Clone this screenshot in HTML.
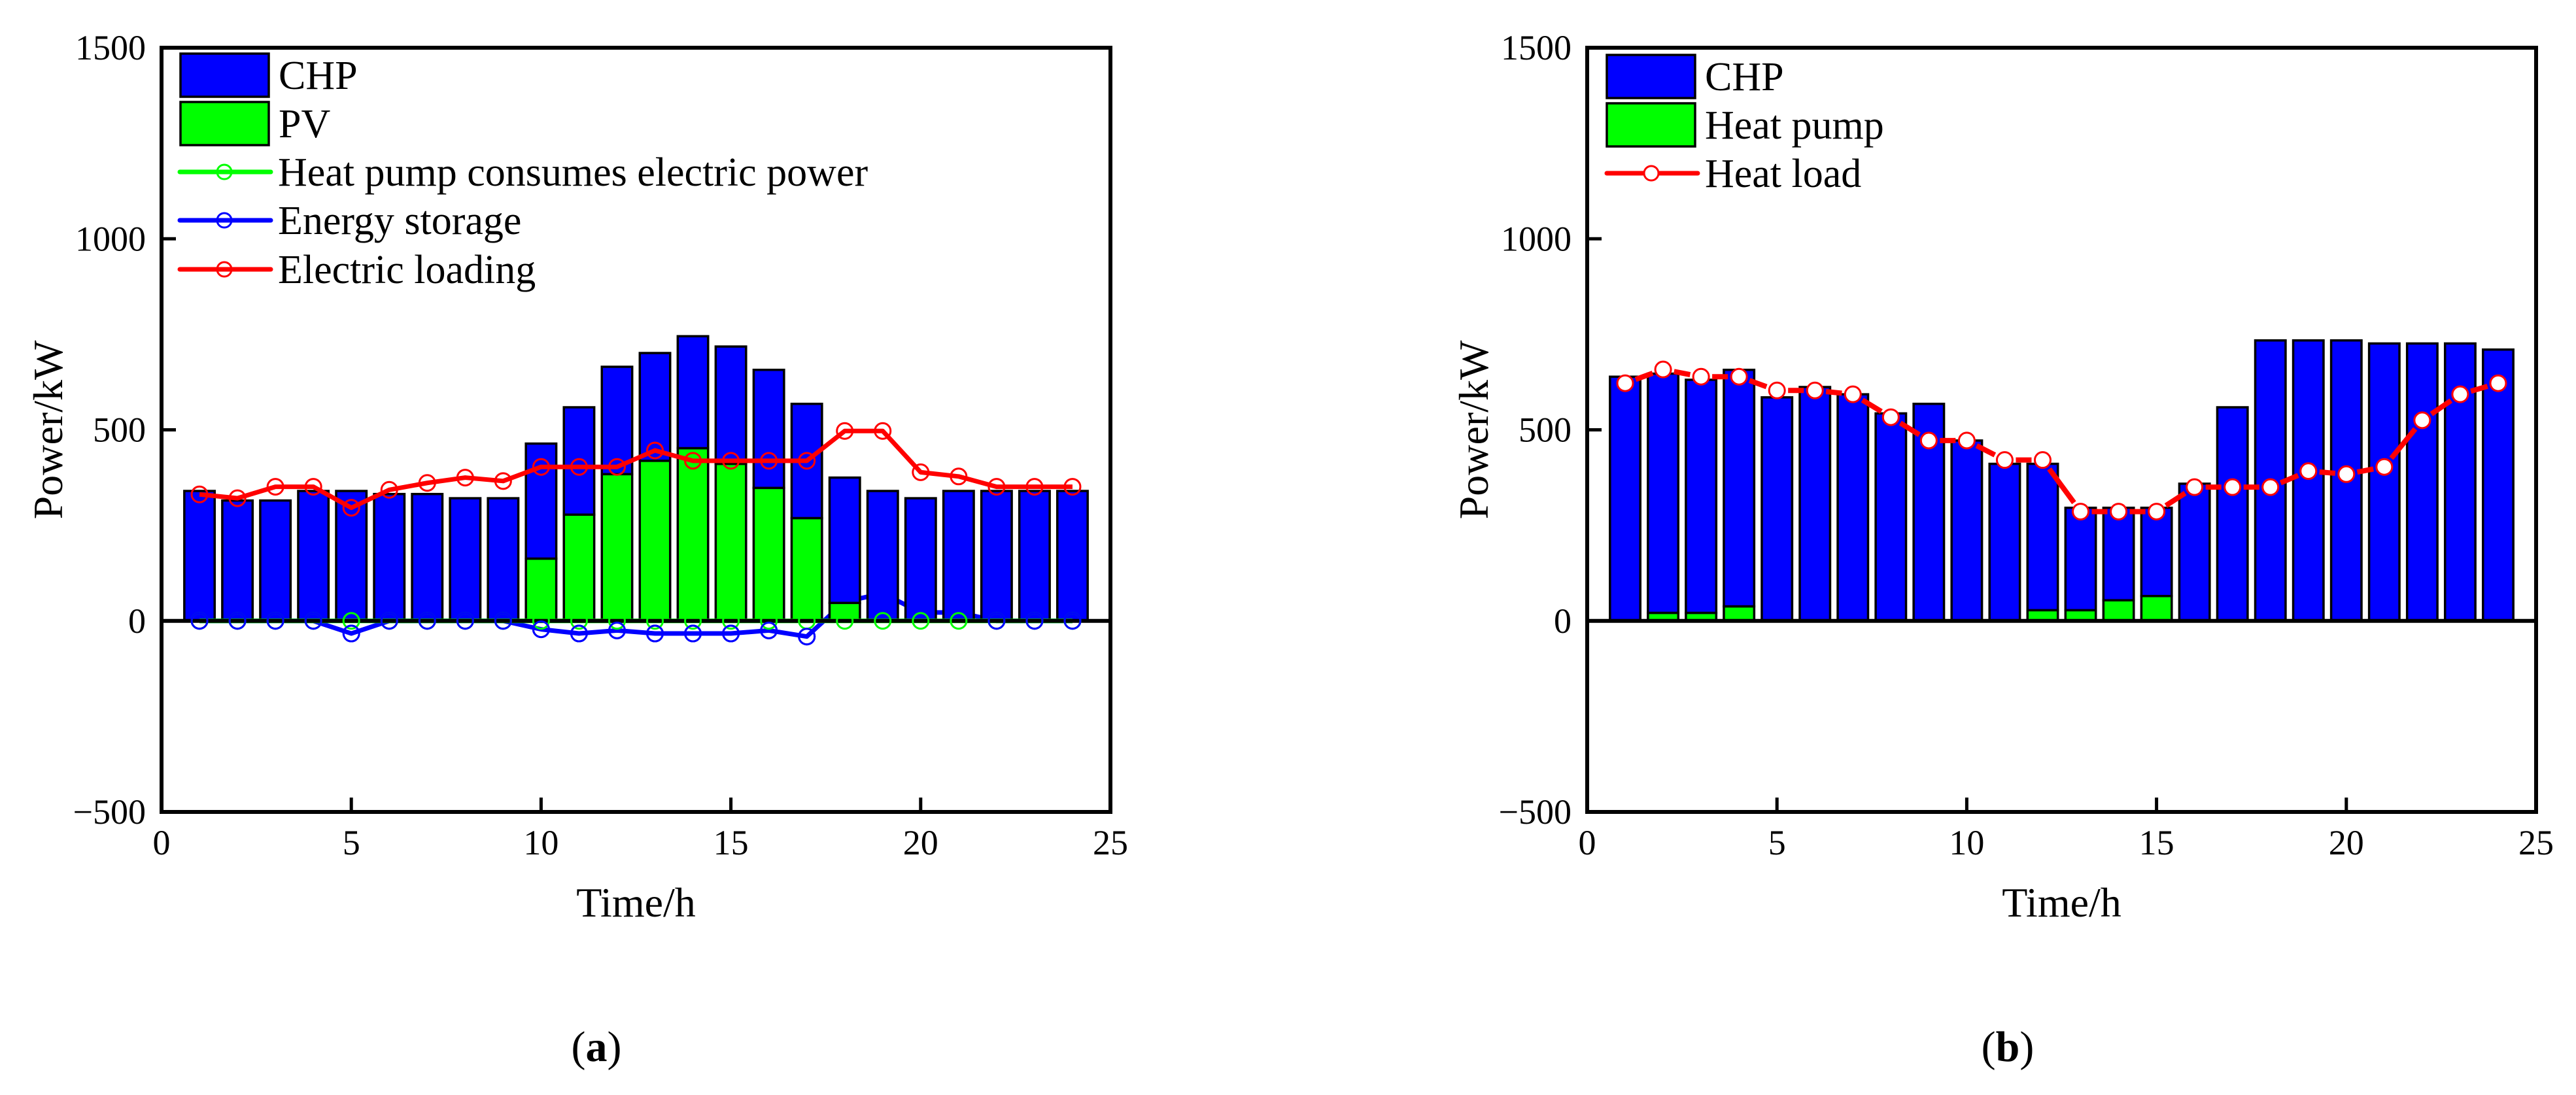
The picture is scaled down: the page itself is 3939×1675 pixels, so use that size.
<!DOCTYPE html>
<html><head><meta charset="utf-8"><style>
html,body{margin:0;padding:0;background:#fff;}
svg{display:block;font-family:"Liberation Serif",serif;}
</style></head><body>
<svg id="svg" width="3939" height="1675" viewBox="0 0 3939 1675" xmlns="http://www.w3.org/2000/svg">
<g id="chartA"></g>
<g id="chartB"></g>
<text x="912" y="1623" font-size="66" text-anchor="middle">(<tspan font-weight="bold">a</tspan>)</text>
<text x="3070" y="1623" font-size="66" text-anchor="middle">(<tspan font-weight="bold">b</tspan>)</text>
</svg>
<script>
const hours = [1,2,3,4,5,6,7,8,9,10,11,12,13,14,15,16,17,18,19,20,21,22,23,24];
const aTotal = [340,315,315,340,340,332,332,321,321,464,559,665,701,745,718,657,568,375,340,321,340,340,340,340];
const aPV = [0,0,0,0,0,0,0,0,0,163,278,384,419,452,411,348,269,47,0,0,0,0,0,0];
const aHeatPump = [0,0,0,0,0,0,0,0,0,0,0,0,0,0,0,0,0,0,0,0,0,0,0,0];
const aStorage = [0,0,0,0,-33,0,0,0,0,-22,-33,-25,-33,-33,-33,-25,-41,50,72,22,22,0,0,0];
const aLoad = [331,321,351,351,296,343,361,375,366,403,403,403,446,419,419,419,419,497,497,389,378,351,351,351];
const bTotal = [639,647,631,657,585,612,593,543,568,472,411,411,296,296,296,359,559,734,734,734,726,726,726,710];
const bHP = [0,21,21,38,0,0,0,0,0,0,0,28,28,54,65,0,0,0,0,0,0,0,0,0];
const bLoad = [622,658,639,639,603,603,593,533,472,472,421,421,286,286,286,350,350,350,392,384,403,525,593,622];
const xTicks = [0,5,10,15,20,25];
const yTicks = [-500,0,500,1000,1500];

const NS = "http://www.w3.org/2000/svg";
function el(tag, attrs, parent){const e=document.createElementNS(NS,tag);for(const k in attrs)e.setAttribute(k,attrs[k]);parent.appendChild(e);return e;}
const TOP=73, BOT=1242;
function yS(v){return TOP+(1500-v)*(BOT-TOP)/2000;}

function drawFrame(g, L, R, xS){
  yTicks.forEach(t=>{
    const tx=el('text',{x:L-24,y:yS(t)+18,'font-size':54,'text-anchor':'end'},g);
    tx.textContent=(t<0?'\u2212'+(-t):String(t));
    
    
    if(t>-500&&t<1500){const tk=el('line',{x1:L,x2:L+22,y1:yS(t),y2:yS(t),stroke:'#000','stroke-width':5},g);
      
      }
  });
  xTicks.forEach(t=>{
    const tx=el('text',{x:xS(t),y:1307,'font-size':54,'text-anchor':'middle'},g);
    tx.textContent=String(t);
    
    
    if(t>0&&t<25){const tk=el('line',{x1:xS(t),x2:xS(t),y1:BOT,y2:BOT-22,stroke:'#000','stroke-width':5},g);
      
      }
  });
  const xt=el('text',{x:(L+R)/2,y:1402,'font-size':64,'text-anchor':'middle'},g);
  xt.textContent='Time/h';
  
  
  const cy=(TOP+BOT)/2, cx=L-152;
  const yt=el('text',{x:cx,y:cy,'font-size':64,'text-anchor':'middle',transform:`rotate(-90 ${cx} ${cy})`},g);
  yt.textContent='Power/kW';
  
  
}
function drawBox(g,L,R){
  const z=el('line',{x1:L,x2:R,y1:yS(0),y2:yS(0),stroke:'#000','stroke-width':6},g);
  
  
  const b=el('rect',{x:L,y:TOP,width:R-L,height:BOT-TOP,fill:'none',stroke:'#000','stroke-width':6},g);
  
  
}
function bars(g,xS,vals,base,color,name){
  const w=0.8*(xS(1)-xS(0));
  hours.forEach((h,i)=>{
    const v=vals[i]; if(v<=0) return;
    const y0=yS(base?base[i]:0), y1=yS((base?base[i]:0)+v);
    const r=el('rect',{x:xS(h)-w/2,y:y1,width:w,height:y0-y1,fill:color,stroke:'#000','stroke-width':3.5},g);
    
    
  });
}
function seriesLine(g,xS,vals,color,name,gap){
  const pts=hours.map((h,i)=>[xS(h),yS(vals[i])]);
  if(!gap){
    const p=el('polyline',{points:pts.map(p=>p.join(',')).join(' '),fill:'none',stroke:color,'stroke-width':7,'stroke-linejoin':'round'},g);
    
    
  } else {
    for(let i=0;i<pts.length-1;i++){
      const [x1,y1]=pts[i],[x2,y2]=pts[i+1];const d=Math.hypot(x2-x1,y2-y1);if(d<36)continue;
      const ux=(x2-x1)/d,uy=(y2-y1)/d;
      const s=el('line',{x1:x1+ux*17,y1:y1+uy*17,x2:x2-ux*17,y2:y2-uy*17,stroke:color,'stroke-width':8},g);
      
      
    }
  }
}
function seriesMarkers(g,xS,vals,color,name,fill,filter){
  hours.forEach((h,i)=>{
    if(filter && !filter(vals[i])) return;
    const c=el('circle',{cx:xS(h),cy:yS(vals[i]),r:12,fill:fill,stroke:color,'stroke-width':3},g);
    
    
  });
}
function legendSwatch(g,x,yc,color,label,name){
  const r=el('rect',{x:x,y:yc-33,width:135,height:66,fill:color,stroke:'#000','stroke-width':3.5},g);
  
  
  const t=el('text',{x:x+150,y:yc+21,'font-size':62},g);
  t.textContent=label;
  
  
}
function legendLine(g,x,yc,color,label,name,fill){
  const l=el('line',{x1:x,x2:x+139,y1:yc,y2:yc,stroke:color,'stroke-width':7,'stroke-linecap':'round'},g);
  
  
  const c=el('circle',{cx:x+68,cy:yc,r:11,fill:fill,stroke:color,'stroke-width':3},g);
  
  
  const t=el('text',{x:x+150,y:yc+21,'font-size':62},g);
  t.textContent=label;
  
  
}

// Chart A
(function(){
  const g=document.getElementById('chartA');const L=247,R=1698;
  const xS=v=>L+v*(R-L)/25;
  drawFrame(g,L,R,xS);
  seriesLine(g,xS,aStorage,'#0000ff','energy-storage',false);
  seriesMarkers(g,xS,aStorage,'#0000ff','energy-storage','none');
  const chp=aTotal.map((t,i)=>t-aPV[i]);
  bars(g,xS,aPV,null,'#00ff00','pv-bar');
  bars(g,xS,chp,aPV,'#0000ff','chp-bar');
  seriesLine(g,xS,aHeatPump,'#00ff00','heat-pump-power',false);
  drawBox(g,L,R);
  seriesMarkers(g,xS,aHeatPump,'#00ff00','heat-pump-power','none');
  seriesMarkers(g,xS,aStorage,'#0000ff','energy-storage','none',v=>v<=0);
  seriesLine(g,xS,aLoad,'#ff0000','electric-loading',false);
  seriesMarkers(g,xS,aLoad,'#ff0000','electric-loading','none');
  legendSwatch(g,276,115,'#0000ff','CHP','legend-chp');
  legendSwatch(g,276,189,'#00ff00','PV','legend-pv');
  legendLine(g,275,263,'#00ff00','Heat pump consumes electric power','legend-heat-pump','none');
  legendLine(g,275,337,'#0000ff','Energy storage','legend-energy-storage','none');
  legendLine(g,275,412,'#ff0000','Electric loading','legend-electric-loading','none');
})();
// Chart B
(function(){
  const g=document.getElementById('chartB');const L=2427,R=3878;
  const xS=v=>L+v*(R-L)/25;
  drawFrame(g,L,R,xS);
  const chp=bTotal.map((t,i)=>t-bHP[i]);
  bars(g,xS,bHP,null,'#00ff00','heat-pump-bar');
  bars(g,xS,chp,bHP,'#0000ff','chp-bar');
  drawBox(g,L,R);
  seriesLine(g,xS,bLoad,'#ff0000','heat-load',true);
  seriesMarkers(g,xS,bLoad,'#ff0000','heat-load','#fff');
  legendSwatch(g,2457,117,'#0000ff','CHP','legend-chp');
  legendSwatch(g,2457,191,'#00ff00','Heat pump','legend-heat-pump');
  legendLine(g,2457,265,'#ff0000','Heat load','legend-heat-load','#fff');
})();
</script>
</body></html>
